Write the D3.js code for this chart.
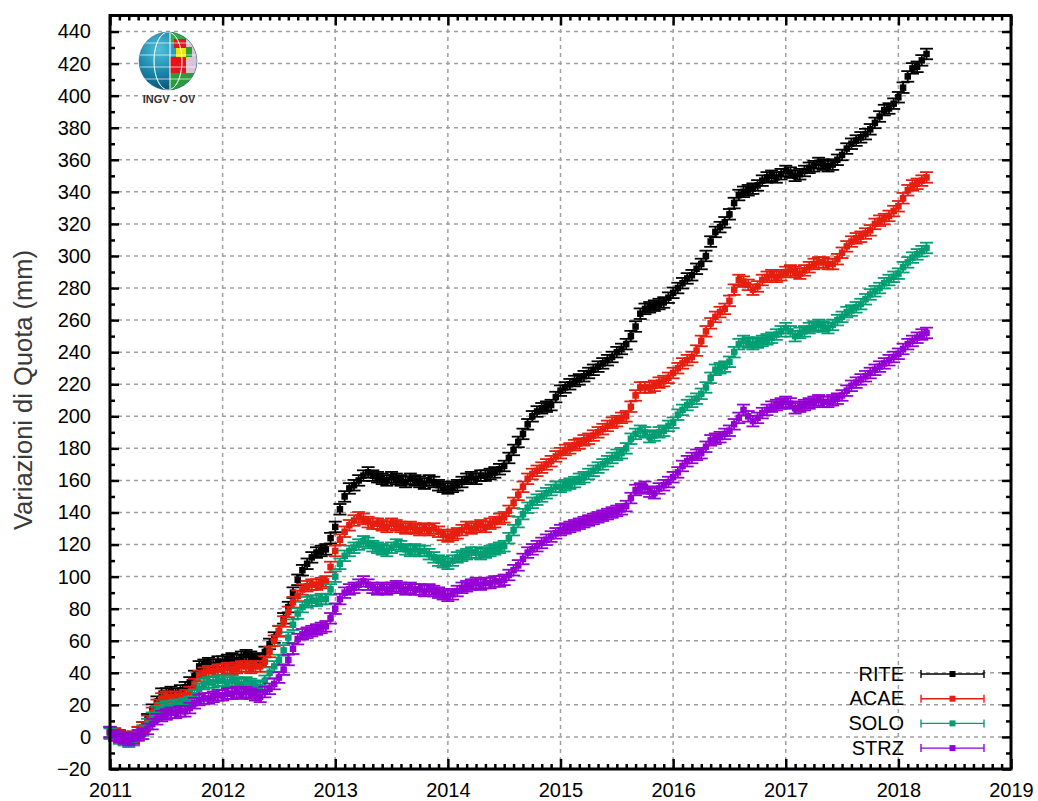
<!DOCTYPE html>
<html><head><meta charset="utf-8">
<script src="https://cdn.jsdelivr.net/npm/d3@7"></script>
<style>body{margin:0;background:#fff}</style>
</head><body><svg id="c" width="1038" height="801"></svg>
<script>
const seriesNames = ["RITE", "ACAE", "SOLO", "STRZ"];
const seriesColors = ["#000000", "#e51e10", "#009e73", "#9400d3"];
const yTickValues = [-20, 0, 20, 40, 60, 80, 100, 120, 140, 160, 180, 200, 220, 240, 260, 280, 300, 320, 340, 360, 380, 400, 420, 440];
const xTickValues = [2011, 2012, 2013, 2014, 2015, 2016, 2017, 2018, 2019];
const startYear = 2011, stepYears = 1 / 24; // half-month sampling
const errorMM = [3.3, 3.3, 3.3, 3.3];

const RITE = [
 3, 2, 1, 0, -1, 0, 3, 6, 11, 17, 22, 27, 27, 28, 27, 29, 31, 34, 38, 44, 45, 46, 45, 47,
 47, 48, 49, 48, 50, 51, 50, 49, 48, 53, 58, 62, 66, 74, 81, 90, 98, 104, 108, 112, 115, 116, 117, 124,
 131, 142, 150, 155, 157, 160, 163, 165, 163, 162, 161, 160, 162, 161, 160, 159, 161, 160, 159, 158, 160, 159, 157, 156,
 155, 156, 157, 159, 161, 162, 161, 163, 163, 164, 165, 167, 169, 174, 179, 184, 189, 195, 200, 203, 205, 206, 207, 212,
 216, 218, 220, 222, 223, 225, 227, 229, 231, 233, 235, 237, 240, 242, 245, 250, 256, 264, 267, 268, 269, 270, 271, 274,
 277, 280, 283, 286, 288, 292, 295, 300, 309, 315, 318, 321, 326, 333, 338, 340, 341, 342, 344, 347, 349, 350, 349, 351,
 353, 352, 350, 351, 353, 355, 356, 358, 357, 356, 357, 360, 363, 367, 370, 372, 374, 376, 379, 383, 387, 391, 392, 395,
 399, 405, 412, 417, 418, 422, 426];
const ACAE = [
 3, 2, 1, 0, -1, 0, 3, 6, 10, 15, 20, 24, 25, 25, 25, 24, 26, 28, 33, 38, 40, 41, 41, 42,
 42, 43, 42, 43, 44, 44, 43, 44, 44, 47, 53, 60, 66, 72, 78, 84, 88, 92, 94, 95, 95, 96, 97, 106,
 116, 123, 128, 132, 135, 137, 136, 134, 133, 133, 132, 131, 133, 132, 131, 130, 131, 130, 129, 130, 129, 130, 128, 126,
 125, 126, 127, 129, 131, 130, 131, 132, 131, 133, 134, 136, 137, 141, 146, 151, 156, 161, 164, 166, 168, 170, 172, 175,
 177, 179, 180, 182, 183, 185, 186, 188, 190, 192, 194, 196, 197, 199, 200, 206, 213, 218, 218, 218, 219, 221, 222, 224,
 227, 230, 233, 235, 237, 241, 247, 253, 258, 262, 265, 267, 272, 279, 285, 284, 282, 279, 281, 285, 287, 288, 287, 288,
 290, 291, 290, 289, 291, 293, 295, 296, 296, 295, 295, 298, 302, 306, 309, 311, 312, 314, 316, 320, 322, 323, 325, 328,
 331, 336, 341, 344, 345, 347, 349];
const SOLO = [
 2, 1, -1, -2, -3, -2, 1, 4, 8, 12, 16, 18, 19, 19, 20, 20, 21, 22, 26, 30, 33, 34, 34, 35,
 35, 34, 35, 34, 33, 34, 33, 32, 31, 35, 40, 44, 48, 54, 62, 70, 77, 81, 84, 85, 85, 86, 86, 92,
 100, 108, 113, 116, 118, 120, 122, 121, 119, 118, 117, 116, 118, 120, 119, 117, 116, 117, 116, 116, 114, 112, 110, 109,
 108, 110, 112, 113, 114, 115, 115, 114, 115, 116, 117, 118, 119, 124, 129, 134, 139, 143, 146, 148, 150, 152, 154, 156,
 156, 157, 158, 159, 161, 162, 164, 166, 168, 170, 172, 174, 176, 177, 180, 186, 189, 191, 190, 187, 188, 190, 191, 194,
 196, 201, 204, 207, 209, 211, 214, 218, 224, 229, 230, 231, 234, 240, 245, 247, 246, 245, 246, 247, 248, 249, 251, 253,
 255, 253, 250, 252, 253, 255, 256, 257, 256, 255, 257, 260, 262, 265, 266, 268, 270, 273, 276, 278, 280, 283, 285, 287,
 289, 293, 296, 299, 301, 303, 305];
const STRZ = [
 3, 1, 0, -1, -2, -1, 1, 2, 5, 8, 11, 13, 14, 15, 15, 16, 16, 18, 21, 23, 24, 24, 25, 26,
 26, 27, 27, 28, 27, 28, 27, 26, 25, 28, 30, 33, 37, 42, 48, 55, 61, 64, 65, 66, 67, 68, 69, 74,
 80, 86, 90, 92, 93, 95, 97, 95, 93, 92, 93, 92, 93, 94, 93, 92, 93, 92, 92, 91, 92, 91, 90, 89,
 88, 89, 91, 93, 94, 95, 96, 95, 96, 96, 97, 97, 98, 101, 104, 107, 111, 115, 117, 119, 121, 123, 125, 127,
 129, 130, 131, 132, 133, 134, 135, 136, 137, 138, 139, 140, 141, 142, 144, 149, 154, 155, 156, 153, 152, 155, 157, 159,
 162, 165, 169, 172, 174, 176, 177, 181, 185, 186, 187, 189, 191, 195, 199, 204, 200, 197, 199, 202, 204, 206, 207, 208,
 209, 208, 205, 206, 207, 208, 209, 210, 209, 209, 210, 211, 213, 216, 219, 221, 223, 225, 227, 229, 231, 233, 235, 237,
 239, 242, 245, 247, 249, 251, 252];

const seriesValues = [RITE, ACAE, SOLO, STRZ];

const svg = d3.select("#c");
const L = 110, R = 1011, T = 15.5, B = 769;
const x = d3.scaleLinear().domain([2011, 2019]).range([L, R]);
const y = d3.scaleLinear().domain([-20, 450]).range([B, T]);
const font = "'Liberation Sans', Arial, sans-serif";

// grid
const grid = svg.append("g").attr("stroke", "#a0a0a0").attr("stroke-width", 1.5).attr("stroke-dasharray", "4,4");
grid.selectAll("line.gx").data(xTickValues.slice(1, -1)).join("line")
  .attr("x1", d => x(d)).attr("x2", d => x(d)).attr("y1", B).attr("y2", T);
grid.selectAll("line.gy").data(yTickValues.slice(1)).join("line")
  .attr("x1", L).attr("x2", R).attr("y1", d => y(d)).attr("y2", d => y(d));

// minor tick values
const xMinor = d3.range(0, 8 * 12 + 1).map(i => 2011 + i / 12).filter(v => Math.abs(v - Math.round(v)) > 1e-6);
const yMinor = d3.range(-10, 450, 20);

function styleAxis(g) {
  g.select(".domain").remove();
  g.selectAll(".tick line").attr("stroke", "#000").attr("stroke-width", 2.5);
  g.selectAll("text").attr("font-family", font).attr("font-size", 20).attr("fill", "#000");
}
// left
svg.append("g").attr("transform", `translate(${L},0)`)
  .call(d3.axisLeft(y).tickValues(yTickValues).tickSize(-9).tickPadding(19).tickFormat(d3.format("d"))).call(styleAxis);
svg.append("g").attr("transform", `translate(${L},0)`)
  .call(d3.axisLeft(y).tickValues(yMinor).tickSize(-5).tickFormat("")).call(styleAxis);
// right
svg.append("g").attr("transform", `translate(${R},0)`)
  .call(d3.axisRight(y).tickValues(yTickValues).tickSize(-9).tickFormat("")).call(styleAxis);
svg.append("g").attr("transform", `translate(${R},0)`)
  .call(d3.axisRight(y).tickValues(yMinor).tickSize(-5).tickFormat("")).call(styleAxis);
// bottom
svg.append("g").attr("transform", `translate(0,${B})`)
  .call(d3.axisBottom(x).tickValues(xTickValues).tickSize(-10).tickPadding(14).tickFormat(d3.format("d"))).call(styleAxis);
svg.append("g").attr("transform", `translate(0,${B})`)
  .call(d3.axisBottom(x).tickValues(xMinor).tickSize(-5).tickFormat("")).call(styleAxis);
// top
svg.append("g").attr("transform", `translate(0,${T})`)
  .call(d3.axisTop(x).tickValues(xTickValues).tickSize(-10).tickFormat("")).call(styleAxis);
svg.append("g").attr("transform", `translate(0,${T})`)
  .call(d3.axisTop(x).tickValues(xMinor).tickSize(-5).tickFormat("")).call(styleAxis);

// data with error bars
const cap = 6.5, ms = 6.5;
seriesValues.forEach((vals, si) => {
  const col = seriesColors[si], e = errorMM[si];
  const pts = vals.map((v, i) => ({ t: startYear + i * stepYears, v }));
  const g = svg.append("g").attr("stroke", col).attr("fill", col).attr("stroke-width", 1.8);
  const p = g.selectAll("g").data(pts).join("g");
  p.append("line").attr("x1", d => x(d.t)).attr("x2", d => x(d.t)).attr("y1", d => y(d.v - e)).attr("y2", d => y(d.v + e));
  p.append("line").attr("x1", d => x(d.t) - cap).attr("x2", d => x(d.t) + cap).attr("y1", d => y(d.v - e)).attr("y2", d => y(d.v - e));
  p.append("line").attr("x1", d => x(d.t) - cap).attr("x2", d => x(d.t) + cap).attr("y1", d => y(d.v + e)).attr("y2", d => y(d.v + e));
  p.append("rect").attr("stroke", "none").attr("x", d => x(d.t) - ms / 2).attr("y", d => y(d.v) - ms / 2).attr("width", ms).attr("height", ms);
});

// frame
svg.append("rect").attr("x", L).attr("y", T).attr("width", R - L).attr("height", B - T)
  .attr("fill", "none").attr("stroke", "#000").attr("stroke-width", 3);

// y title
svg.append("text").attr("transform", "translate(31.5,390) rotate(-90)")
  .attr("text-anchor", "middle").attr("font-family", font).attr("font-size", 25.5).attr("fill", "#3a3a3a")
  .text("Variazioni di Quota (mm)");

// legend
const leg = svg.append("g");
seriesNames.forEach((name, i) => {
  const ly = 674 + i * 24.7, col = seriesColors[i];
  leg.append("text").attr("x", 904).attr("y", ly + 6.5).attr("text-anchor", "end")
    .attr("font-family", font).attr("font-size", 20).attr("fill", "#000").text(name);
  const g = leg.append("g").attr("stroke", col).attr("stroke-width", 1.4);
  g.append("line").attr("x1", 921).attr("x2", 984).attr("y1", ly).attr("y2", ly);
  g.append("line").attr("x1", 921).attr("x2", 921).attr("y1", ly - 4).attr("y2", ly + 4);
  g.append("line").attr("x1", 984).attr("x2", 984).attr("y1", ly - 4).attr("y2", ly + 4);
  leg.append("rect").attr("x", 952.5 - 3).attr("y", ly - 3).attr("width", 6).attr("height", 6).attr("fill", col);
});

// logo
const defs = svg.append("defs");
const rgd = defs.append("radialGradient").attr("id", "gblue").attr("cx", "35%").attr("cy", "30%").attr("r", "75%");
rgd.append("stop").attr("offset", "0%").attr("stop-color", "#52c0d8");
rgd.append("stop").attr("offset", "55%").attr("stop-color", "#1786ab");
rgd.append("stop").attr("offset", "100%").attr("stop-color", "#0a4d6c");
defs.append("clipPath").attr("id", "gclip").append("circle").attr("r", 29);
const logo = svg.append("g").attr("transform", "translate(168,61)");
logo.append("circle").attr("r", 29).attr("fill", "url(#gblue)");
const lg = logo.append("g").attr("clip-path", "url(#gclip)");
[[2, -30, 30, 12, "#3aa845"], [17, -22, 15, 24, "#d8c4d6"], [6, -22, 12, 9, "#e3141b"], [8, -13, 12, 15, "#f2e600"],
 [2, -4, 16, 16, "#e3141b"], [18, -2, 14, 24, "#d8c4d6"], [2, 12, 30, 20, "#2c9b3d"], [18, -14, 6, 10, "#2c9b3d"]]
  .forEach(r => lg.append("rect").attr("x", r[0]).attr("y", r[1]).attr("width", r[2]).attr("height", r[3]).attr("fill", r[4]));
const wg = lg.append("g").attr("fill", "none").attr("stroke", "#fff").attr("stroke-opacity", 0.75).attr("stroke-width", 0.9);
[-14, 14].forEach(rx => wg.append("ellipse").attr("rx", Math.abs(rx)).attr("ry", 29));
wg.append("line").attr("x1", 2).attr("x2", 2).attr("y1", -29).attr("y2", 29).attr("stroke-width", 1.4);
[-18, -6, 6, 18].forEach(py => wg.append("line").attr("x1", -29).attr("x2", 29).attr("y1", py).attr("y2", py));
logo.append("circle").attr("r", 29).attr("fill", "none").attr("stroke", "#0a4d6c").attr("stroke-opacity", 0.4);
svg.append("text").attr("x", 169).attr("y", 103).attr("text-anchor", "middle").attr("font-family", font)
  .attr("font-weight", "bold").attr("font-size", 11).attr("fill", "#333").text("INGV - OV");
</script></body></html>
